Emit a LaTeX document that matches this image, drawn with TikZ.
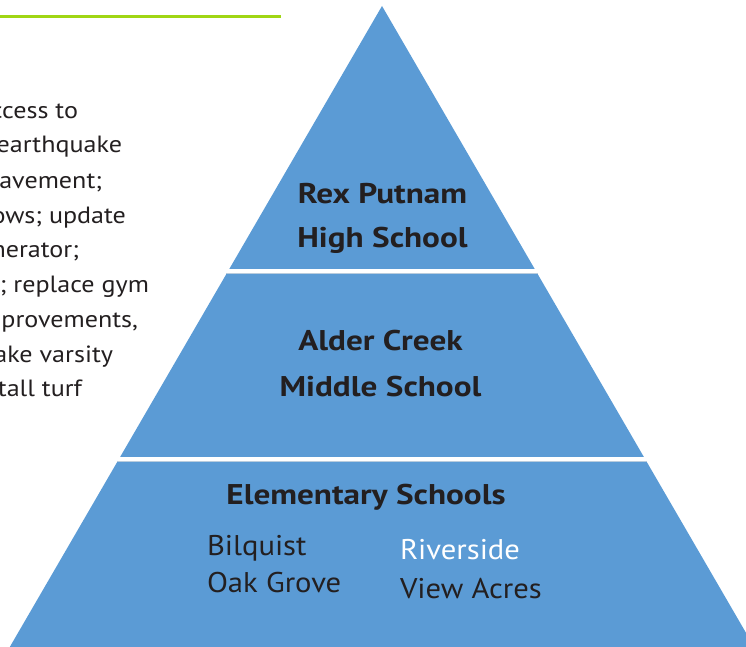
\documentclass[tikz,border=0pt]{standalone}
\usepackage{fontspec}
\setmainfont{PT Sans}
\newfontfamily\tierfont{PT Sans}[FakeStretch=1.165]
\newfontfamily\namefont{PT Sans}[FakeStretch=1.075]
\newfontfamily\sidefont{PT Sans}[FakeStretch=1.11]
\definecolor{pyrblue}{HTML}{5B9BD5}
\definecolor{inkdark}{HTML}{231F20}
\definecolor{limegreen}{RGB}{160,214,20}
\definecolor{sepshade}{HTML}{B9CCDD}
\begin{document}
\begin{tikzpicture}[x=1pt,y=-1pt,
  txt/.style={inner sep=0pt,outer sep=0pt,text=inkdark},
  tierbold/.style={txt,font=\tierfont\fontsize{28.5}{34}\selectfont\bfseries,anchor=base},
  schoolname/.style={txt,font=\namefont\fontsize{28.5}{34}\selectfont,anchor=base west},
  sidetext/.style={txt,font=\sidefont\fontsize{23.5}{28}\selectfont,anchor=base east},
  sep/.style={draw=white,line width=3.2pt},
  sepedge/.style={draw=sepshade,line width=1pt}]
\useasboundingbox (0,0) rectangle (746,647);
\clip (0,0) rectangle (746,647);
% heading fragment and rule
\node[txt,font=\tierfont\fontsize{30}{36}\selectfont\bfseries,anchor=base west] (head) at (10,-6) {g proj};
\draw[limegreen,line width=2.2pt] (0,16.5) -- (281,16.5);
% pyramid
\coordinate (apex) at (382,6);
\coordinate (bl) at (-21,700);
\coordinate (br) at (785,700);
\fill[pyrblue] (apex) -- (br) -- (bl) -- cycle;
% separators
\coordinate (s1l) at (226,271);
\coordinate (s1r) at (538,271);
\coordinate (s2l) at (117,459);
\coordinate (s2r) at (647,459);
\draw[sepedge] ([yshift=-2.2pt]s1l) -- ([yshift=-2.2pt]s1r);
\draw[sepedge] ([yshift=-2.2pt]s2l) -- ([yshift=-2.2pt]s2r);
\draw[sep] (s1l) -- (s1r);
\draw[sep] (s2l) -- (s2r);
% tier labels
\node[tierbold] (rex) at (382.5,203) {Rex Putnam};
\node[tierbold] (rexhs) at (382.5,247) {High School};
\node[tierbold] (alder) at (380.5,350) {Alder Creek};
\node[tierbold] (alderms) at (380.5,396) {Middle School};
\node[tierbold] (elem) at (366,504) {Elementary Schools};
\node[schoolname] (bilq) at (207,555) {Bilquist};
\node[schoolname] (oak) at (207,592) {Oak Grove};
\node[schoolname,text=white] (river) at (400,559) {Riverside};
\node[schoolname] (view) at (400,598) {View Acres};
% side text (cut at left edge)
\node[sidetext] (l1) at (78,119) {ccess to};
\node[sidetext] (l2) at (122,153) {earthquake};
\node[sidetext] (l3) at (102,188) {avement;};
\node[sidetext] (l4) at (126,223) {ows; update};
\node[sidetext] (l5) at (79,257) {nerator;};
\node[sidetext] (l6) at (149,292) {; replace gym};
\node[sidetext] (l7) at (138,327) {provements,};
\node[sidetext] (l8) at (113,362) {ake varsity};
\node[sidetext] (l9) at (82,396) {tall turf};
\end{tikzpicture}
\end{document}
